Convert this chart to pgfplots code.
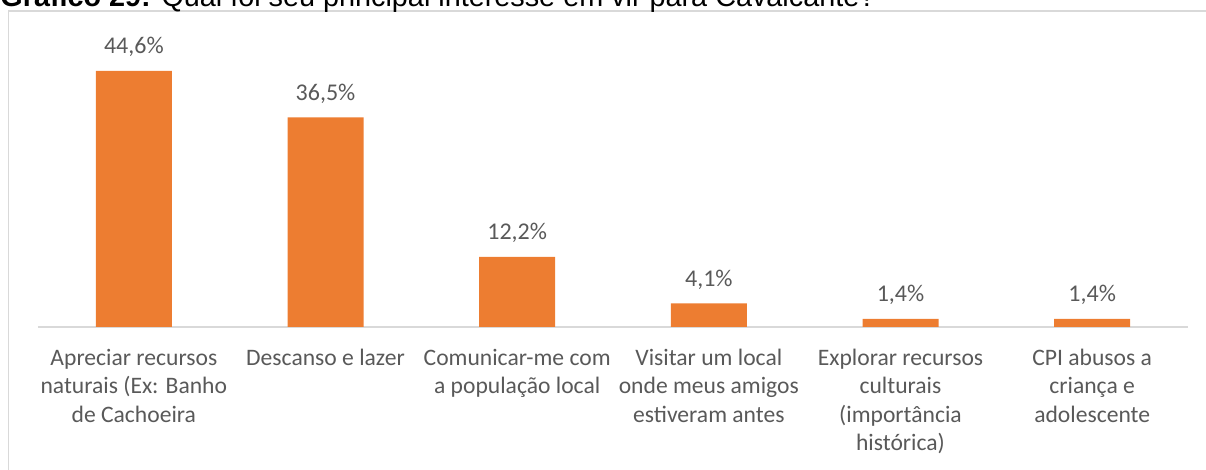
\documentclass[border=0pt]{standalone}
\usepackage{pgfplots}
\pgfplotsset{compat=1.18}
\usepackage{fontspec}
\setmainfont{Carlito}
\newfontfamily\arial{Liberation Sans}
\definecolor{barorange}{HTML}{ED7D31}
\definecolor{txtgray}{HTML}{595959}
\definecolor{linegray}{HTML}{D9D9D9}
\begin{document}
\begin{tikzpicture}
\useasboundingbox (0,0) rectangle (603pt,235pt);
\draw[linegray, line width=0.6pt] (4.25pt,-5pt) -- (4.25pt,229.5pt) -- (610pt,229.5pt);
\node[anchor=base west, inner sep=0pt] at (0pt,231.5pt) {\arial\fontsize{14.4}{16}\selectfont\textbf{Gráfico 29:} Qual foi seu principal interesse em vir para Cavalcante?};
\begin{axis}[
  at={(19pt,71.5pt)}, anchor=south west,
  scale only axis, width=575pt, height=143.5pt,
  xmin=-0.5, xmax=5.5, ymin=0, ymax=50,
  axis y line=none,
  axis x line*=bottom,
  axis line style={linegray, line width=0.8pt, -},
  xtick=data,
  major tick length=0pt,
  xticklabels={{Apreciar recursos\\naturais (Ex: Banho\\de Cachoeira},
    {Descanso e lazer},
    {Comunicar-me com\\a população local},
    {Visitar um local\\onde meus amigos\\estiveram antes},
    {Explorar recursos\\culturais\\(importância\\histórica)},
    {CPI abusos a\\criança e\\adolescente}},
  xticklabel style={align=center, text=txtgray, anchor=north, yshift=-7.5pt,
    font=\fontsize{11.8}{14.2}\selectfont},
  ybar, bar width=38pt,
  nodes near coords={\pgfmathprintnumber[fixed,fixed zerofill,precision=1,use comma,assume math mode=true]{\pgfplotspointmeta}\%},
  every node near coord/.append style={anchor=base, yshift=8.5pt, text=txtgray, font=\fontsize{12}{14}\selectfont, inner sep=0pt},
  clip=false,
]
\addplot[fill=barorange, draw=none] coordinates {(0,44.6) (1,36.5) (2,12.2) (3,4.1) (4,1.4) (5,1.4)};
\end{axis}
\end{tikzpicture}
\end{document}
